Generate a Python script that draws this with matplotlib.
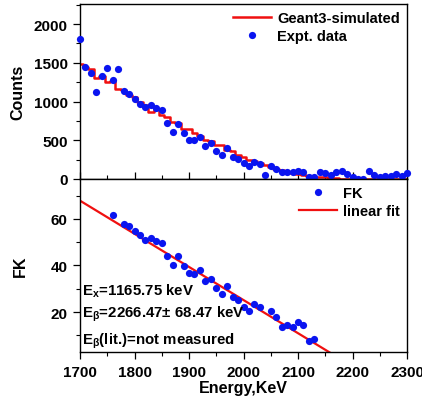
import matplotlib
matplotlib.use("Agg")
import matplotlib.pyplot as plt
import numpy as np

plt.rcParams['font.family'] = ['Liberation Sans', 'DejaVu Sans']
plt.rcParams['font.weight'] = 'bold'
plt.rcParams['mathtext.fontset'] = 'custom'
plt.rcParams['mathtext.rm'] = 'Liberation Sans:bold'
plt.rcParams['mathtext.it'] = 'Liberation Sans:bold'
plt.rcParams['mathtext.bf'] = 'Liberation Sans:bold'

# ---- data: top panel ----
energy_expt = [1700, 1710, 1720, 1730, 1740, 1750, 1760, 1770, 1780, 1790,
               1800, 1810, 1820, 1830, 1840, 1850, 1860, 1870, 1880, 1890,
               1900, 1910, 1920, 1930, 1940, 1950, 1960, 1970, 1980, 1990,
               2000, 2010, 2020, 2030, 2040, 2050, 2060, 2070, 2080, 2090,
               2100, 2110, 2120, 2130, 2140, 2150, 2160, 2170, 2180, 2190,
               2200, 2210, 2220, 2230, 2240, 2250, 2260, 2270, 2280, 2290, 2300]
counts_expt = [1804, 1447, 1364, 1123, 1330, 1438, 1282, 1425, 1136, 1101,
               1036, 972, 929, 950, 916, 885, 725, 605, 716, 592,
               509, 505, 548, 431, 462, 363, 311, 397, 281, 255,
               203, 172, 224, 194, 52, 172, 130, 87, 87, 87,
               108, 87, 22, 22, 87, 80, 52, 87, 100, 65,
               22, 5, 5, 108, 52, 22, 43, 43, 65, 43, 80]

energy_sim = [1700, 1710, 1720, 1730, 1740, 1750, 1760, 1770, 1780, 1790,
              1800, 1810, 1820, 1830, 1840, 1850, 1860, 1870, 1880, 1890,
              1900, 1910, 1920, 1930, 1940, 1950, 1960, 1970, 1980, 1990,
              2000, 2010, 2020, 2030, 2040, 2050, 2060, 2070, 2080, 2090,
              2100, 2110, 2120, 2130, 2140, 2150, 2160, 2170, 2180, 2190,
              2200, 2210, 2220, 2230, 2240, 2250, 2260, 2270, 2280, 2290, 2300]
counts_sim = [1490, 1450, 1420, 1300, 1330, 1250, 1260, 1160, 1150, 1080,
              1060, 990, 960, 860, 900, 820, 800, 740, 720, 650,
              640, 600, 560, 500, 490, 440, 440, 380, 360, 310,
              290, 250, 230, 200, 180, 150, 130, 110, 90, 80,
              60, 50, 40, 30, 25, 20, 10, 10, 5, 5,
              5, 5, 3, 3, 3, 3, 3, 3, 3, 3, 3]

# ---- data: bottom panel ----
energy_fk = [1760, 1780, 1790, 1800, 1810, 1820, 1830, 1840, 1850, 1860,
             1870, 1880, 1890, 1900, 1910, 1920, 1930, 1940, 1950, 1960,
             1970, 1980, 1990, 2000, 2010, 2020, 2030, 2050, 2060, 2070,
             2080, 2090, 2100, 2110, 2120, 2130]
fk_values = [61.8, 57.9, 56.9, 54.6, 52.9, 51.0, 51.7, 50.7, 49.7, 44.0,
             40.4, 44.0, 39.6, 36.7, 36.4, 37.9, 33.3, 34.3, 30.4, 27.9,
             31.4, 26.5, 25.0, 22.2, 20.3, 23.3, 22.2, 20.3, 17.9, 13.6,
             14.3, 13.6, 15.8, 14.3, 7.6, 8.3]

fit_x = [1700, 2180]
fit_y = [67.8, -0.4]

x_ticks = [1700, 1800, 1900, 2000, 2100, 2200, 2300]
count_ticks = [0, 500, 1000, 1500, 2000]
fk_ticks = [20, 40, 60]

blue = '#0a14f0'
red = '#f01010'

fig = plt.figure(figsize=(4.22, 4.06), dpi=100)
ax1 = fig.add_axes([0.1896, 0.5567, 0.7749, 0.4310])
ax2 = fig.add_axes([0.1896, 0.1305, 0.7749, 0.4262], sharex=ax1)

# top panel
ax1.step(energy_sim, counts_sim, where='mid', color=red, lw=1.8,
         label='Geant3-simulated', zorder=2)
ax1.plot(energy_expt, counts_expt, 'o', color=blue, ms=5.2, mec='none',
         label='Expt. data', zorder=3, clip_on=False)
ax1.set_xlim(1700, 2300)
ax1.set_ylim(0, 2260)
ax1.set_yticks(count_ticks)
ax1.yaxis.set_minor_locator(matplotlib.ticker.MultipleLocator(250))
ax1.set_ylabel('Counts', fontsize=11.5, fontweight='bold', labelpad=6)
ax1.tick_params(axis='x', which='both', direction='in', labelbottom=False)
ax1.legend(loc='upper right', frameon=False, fontsize=10.5,
           handlelength=2.6, handletextpad=0.4, borderaxespad=0.1,
           labelspacing=0.25)

# bottom panel
ax2.plot(energy_fk, fk_values, 'o', color=blue, ms=5.2, mec='none',
         label='FK', zorder=3)
ax2.plot(fit_x, fit_y, '-', color=red, lw=1.6, label='linear fit', zorder=2)
ax2.set_ylim(2.9, 77.1)
ax2.set_yticks(fk_ticks)
ax2.yaxis.set_minor_locator(matplotlib.ticker.MultipleLocator(10))
ax2.set_xticks(x_ticks)
ax2.xaxis.set_minor_locator(matplotlib.ticker.MultipleLocator(50))
ax2.set_ylabel('FK', fontsize=11.5, fontweight='bold', labelpad=16)
ax2.set_xlabel('Energy,KeV', fontsize=11.5, fontweight='bold', labelpad=1)
ax2.legend(loc='upper right', frameon=False, fontsize=10.5,
           handlelength=2.6, handletextpad=0.4, borderaxespad=0.1,
           labelspacing=0.25)

ax2.text(0.005, 0.355, r'E$_\mathrm{x}$=1165.75 keV', transform=ax2.transAxes,
         fontsize=10.8, fontweight='bold', va='center', ha='left')
ax2.text(0.005, 0.225, r'E$_\beta$=2266.47$\pm$ 68.47 keV', transform=ax2.transAxes,
         fontsize=10.8, fontweight='bold', va='center', ha='left')
ax2.text(0.005, 0.065, r'E$_\beta$(lit.)=not measured', transform=ax2.transAxes,
         fontsize=10.8, fontweight='bold', va='center', ha='left')

for ax in (ax1, ax2):
    ax.tick_params(axis='both', which='major', length=5, width=0.9,
                   labelsize=11, pad=4)
    ax.tick_params(axis='both', which='minor', length=3, width=0.8)
    for lab in ax.get_xticklabels() + ax.get_yticklabels():
        lab.set_fontweight('bold')
    for s in ax.spines.values():
        s.set_linewidth(1.0)
ax1.tick_params(axis='x', which='both', direction='in')
ax1.xaxis.set_minor_locator(matplotlib.ticker.MultipleLocator(50))

fig.savefig('out.png', dpi=100)
